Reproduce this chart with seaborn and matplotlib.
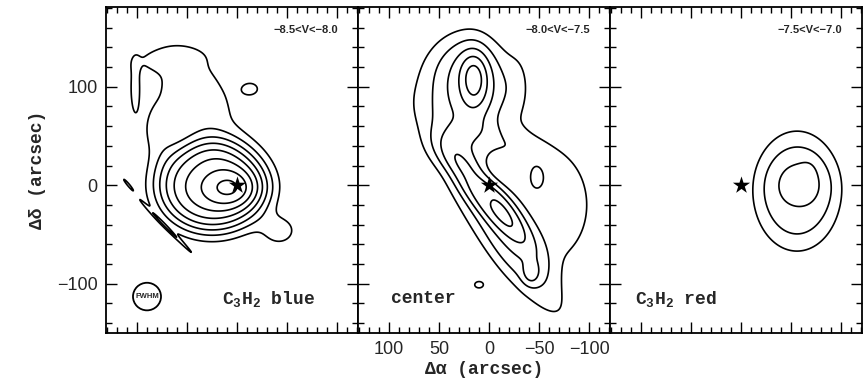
import numpy as np
import pandas as pd
import matplotlib
matplotlib.use("Agg")
import matplotlib.pyplot as plt
from matplotlib.ticker import MultipleLocator
from matplotlib.patches import Circle
import seaborn as sns

# Emission clumps per velocity channel:
# (x0, y0, sigma_a, sigma_b, angle_deg, peak, shape_exponent)
blue_clumps = [
    (25, -1, 48, 41, 0, 5.9, 4),
    (8, -3, 22, 14, 0, 2.3, 2),
    (-42, -46, 14, 12, 0, 1.5, 2),
    (40, 90, 45, 24, 59.5, 1.75, 2),
    (80, 55, 12, 22, 0, 1.3, 2),
    (72, 128, 28, 8, -5, 0.85, 2),
    (102, 98, 4, 22, 0, 1.4, 2),
    (-14, 98, 9, 7, 0, 1.15, 2),
    (68, -45, 32, 1.2, 46, 1.5, 2),
    (109, 1, 7, 1.0, 50, 1.5, 2),
]
center_clumps = [
    (15, 108, 10, 20, 0, 2.4, 2),
    (20, 100, 30, 42, 0, 2.2, 3),
    (28, 95, 50, 52, 0, 1.1, 4),
    (15, 40, 35, 20, 0, 1.3, 3),
    (2, -12, 45, 13, 49, 2.3, 3),
    (-10, -40, 90, 21, 56, 2.2, 3),
    (-55, -20, 45, 60, 0, 1.5, 4),
    (-30, 40, 18, 15, 0, 0.6, 2),
    (-48, 8, 6, 10, 0, 0.9, 2),
    (-42, -90, 6, 8, 0, 1.3, 2),
    (10, -101, 8, 6, 0, 1.15, 2),
    (-30, 100, 10, 30, 0, 0.8, 2),
]
red_clumps = [
    (-56, -6, 36, 50, 0, 2.7, 3.5),
    (-60, 2, 19, 17, 0, 0.85, 2),
    (-68, 16, 6, 8, 0, 0.3, 2),
]

contour_levels = [1, 2, 3, 4, 5, 6, 7, 8]
panel_clumps = [blue_clumps, center_clumps, red_clumps]
panel_names = [r"C$_\mathregular{3}$H$_\mathregular{2}$ blue", "center",
               r"C$_\mathregular{3}$H$_\mathregular{2}$ red"]
velocity_ranges = ["\u22128.5<V<\u22128.0", "\u22128.0<V<\u22127.5", "\u22127.5<V<\u22127.0"]
star_x = [0]
star_y = [0]
beam_fwhm = 28

sns.set_theme(style="ticks")
plt.rcParams["font.family"] = ["Liberation Sans", "DejaVu Sans"]
plt.rcParams["mathtext.fontset"] = "custom"
plt.rcParams["mathtext.rm"] = "Liberation Mono:bold"
plt.rcParams["mathtext.it"] = "Liberation Mono:bold"

grid_x = np.linspace(140, -130, 541)
grid_y = np.linspace(-160, 190, 701)
GX, GY = np.meshgrid(grid_x, grid_y)


def intensity(clumps):
    z = np.zeros_like(GX)
    for x0, y0, sa, sb, ang, amp, p in clumps:
        t = np.deg2rad(ang)
        dx, dy = GX - x0, GY - y0
        u = dx * np.cos(t) + dy * np.sin(t)
        v = -dx * np.sin(t) + dy * np.cos(t)
        r2 = (u / sa) ** 2 + (v / sb) ** 2
        z += amp * np.exp(-0.5 * r2 ** (p / 2))
    return z


fig = plt.figure(figsize=(8.67, 3.86), dpi=100)
W, H = 867, 386
left_px, top_px, bottom_px = 106, 7, 333
panel_w = 252

mono = ["Liberation Mono", "DejaVu Sans Mono"]

for i, clumps in enumerate(panel_clumps):
    ax = fig.add_axes([(left_px + i * panel_w) / W, (H - bottom_px) / H,
                       panel_w / W, (bottom_px - top_px) / H])
    ax.contour(GX, GY, intensity(clumps), levels=contour_levels,
               colors="black", linewidths=1.2)
    sns.scatterplot(x=star_x, y=star_y, marker="*", s=170, color="black",
                    edgecolor="black", linewidth=0, ax=ax, zorder=5)
    ax.set_xlim(131, -121)
    ax.set_ylim(-150, 181)
    ax.xaxis.set_major_locator(MultipleLocator(50))
    ax.xaxis.set_minor_locator(MultipleLocator(10))
    ax.yaxis.set_major_locator(MultipleLocator(100))
    ax.yaxis.set_minor_locator(MultipleLocator(20))
    ax.tick_params(which="both", direction="in", top=True, right=True,
                   bottom=True, left=True, color="black", width=1.0)
    ax.tick_params(which="major", length=8, labelsize=13, pad=6)
    ax.tick_params(which="minor", length=4)
    for sp in ax.spines.values():
        sp.set_linewidth(1.3)
        sp.set_color("black")
    if i != 0:
        ax.tick_params(labelleft=False)
    if i != 1:
        ax.tick_params(labelbottom=False)
    ax.set_xlabel("")
    ax.set_ylabel("")
    ax.text(0.92, 0.93, velocity_ranges[i], transform=ax.transAxes,
            ha="right", va="center", fontsize=8, fontweight="bold")
    if i == 0:
        ax.text(0.83, 0.105, panel_names[i], transform=ax.transAxes,
                ha="right", va="center", fontsize=13, family=mono, fontweight="bold")
        ax.add_patch(Circle((90, -113), beam_fwhm / 2, facecolor="white",
                            edgecolor="black", linewidth=1.3, zorder=4))
        ax.text(90, -113, "FWHM", ha="center", va="center", fontsize=5.5,
                fontweight="heavy", zorder=5)
        ax.set_ylabel("\u0394\u03b4 (arcsec)", family=mono, fontsize=13,
                      fontweight="bold", labelpad=8)
    elif i == 1:
        ax.text(0.13, 0.105, panel_names[i], transform=ax.transAxes,
                ha="left", va="center", fontsize=13, family=mono, fontweight="bold")
        ax.set_xlabel("\u0394\u03b1 (arcsec)", family=mono, fontsize=13,
                      fontweight="bold", labelpad=2)
    else:
        ax.text(0.1, 0.105, panel_names[i], transform=ax.transAxes,
                ha="left", va="center", fontsize=13, family=mono, fontweight="bold")

fig.savefig("out.png", dpi=100, facecolor="white")
